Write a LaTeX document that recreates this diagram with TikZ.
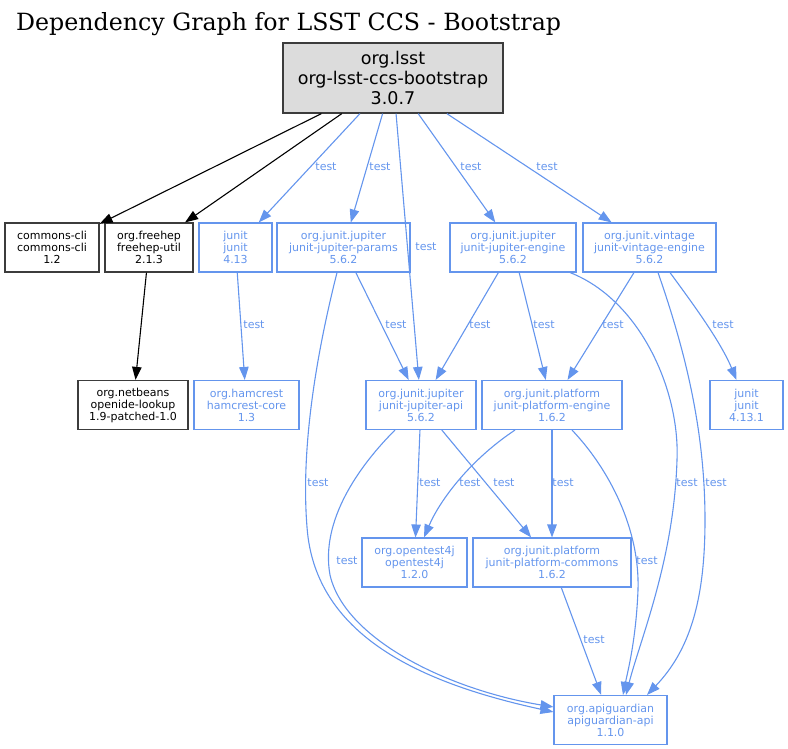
\documentclass[tikz,border=0pt]{standalone}
\usepackage{fontspec}
\setmainfont{DejaVu Sans}
\newfontfamily\titlefont{DejaVu Serif}
\usetikzlibrary{arrows.meta}
\definecolor{cfblue}{RGB}{100,149,237}
\definecolor{rootfill}{RGB}{220,220,220}
\definecolor{dgray}{RGB}{60,60,60}
\begin{document}
\begin{tikzpicture}[x=1pt,y=-1pt,
  box/.style={draw, line width=1.2pt, inner sep=0pt, align=center,
    font=\fontsize{11}{12}\selectfont, minimum height=49pt},
  dep/.style={box, draw=dgray, text=black},
  tdep/.style={box, line width=1.1pt, draw=cfblue, text=cfblue},
  rootbox/.style={draw=dgray, fill=rootfill, line width=1.3pt, inner sep=0pt, align=center,
    font=\fontsize{17.5}{20}\selectfont, minimum width=220pt, minimum height=70pt},
  edge/.style={line width=1.1pt, -{Triangle[length=13pt,width=9.5pt]}},
  bedge/.style={edge, draw=black},
  tedge/.style={edge, draw=cfblue},
  lbl/.style={text=cfblue, font=\fontsize{11}{12}\selectfont, inner sep=0pt}]
\useasboundingbox (0,0) rectangle (788,749);
\node[anchor=base west, font=\titlefont\fontsize{23.7}{26}\selectfont, inner sep=0pt] (title) at (16,31) {Dependency Graph for LSST CCS - Bootstrap};
% nodes
\node[rootbox] (root) at (393,78) {org.lsst\\org-lsst-ccs-bootstrap\\3.0.7};
\node[dep, minimum width=94pt] (cc) at (52,247.5) {commons-cli\\commons-cli\\1.2};
\node[dep, minimum width=88pt] (fh) at (149,247.5) {org.freehep\\freehep-util\\2.1.3};
\node[tdep, minimum width=73pt] (ju) at (235.5,247.5) {junit\\junit\\4.13};
\node[tdep, minimum width=133pt] (jp) at (343.5,247.5) {org.junit.jupiter\\junit-jupiter-params\\5.6.2};
\node[tdep, minimum width=126pt] (je) at (513,247.5) {org.junit.jupiter\\junit-jupiter-engine\\5.6.2};
\node[tdep, minimum width=133pt] (ve) at (649.5,247.5) {org.junit.vintage\\junit-vintage-engine\\5.6.2};
\node[dep, minimum width=110pt] (nb) at (133,405) {org.netbeans\\openide-lookup\\1.9-patched-1.0};
\node[tdep, minimum width=105pt] (hc) at (246.5,405) {org.hamcrest\\hamcrest-core\\1.3};
\node[tdep, minimum width=110pt] (ja) at (421,405) {org.junit.jupiter\\junit-jupiter-api\\5.6.2};
\node[tdep, minimum width=140pt] (pe) at (552,405) {org.junit.platform\\junit-platform-engine\\1.6.2};
\node[tdep, minimum width=73pt] (jn) at (746.5,405) {junit\\junit\\4.13.1};
\node[tdep, minimum width=105pt] (ot) at (414.5,562.5) {org.opentest4j\\opentest4j\\1.2.0};
\node[tdep, minimum width=158pt] (pc) at (552,562.5) {org.junit.platform\\junit-platform-commons\\1.6.2};
\node[tdep, minimum width=113pt] (ag) at (610.5,720) {org.apiguardian\\apiguardian-api\\1.1.0};
% edges from root
\draw[bedge] (root) -- (cc);
\draw[bedge] (root) -- (fh);
\draw[tedge] (root) -- (ju) node[lbl] (l1) at (326,167) {test};
\draw[tedge] (root) -- (jp) node[lbl] (l2) at (380,167) {test};
\draw[tedge] (root) -- (ja) node[lbl] (l3) at (426,247) {test};
\draw[tedge] (root) -- (je) node[lbl] (l4) at (471,167) {test};
\draw[tedge] (root) -- (ve) node[lbl] (l5) at (547,167) {test};
% second level
\draw[bedge] (fh) -- (nb);
\draw[tedge] (ju) -- (hc) node[lbl] (l6) at (254,325) {test};
\draw[tedge] (jp) -- (ja) node[lbl] (l7) at (396,325) {test};
\draw[tedge] (je) -- (ja) node[lbl] (l8) at (480,325) {test};
\draw[tedge] (je) -- (pe) node[lbl] (l9) at (544,325) {test};
\draw[tedge] (ve) -- (pe) node[lbl] (l10) at (613,325) {test};
\draw[tedge] ([xshift=20.5pt]ve.south) .. controls (690,300) and (720,340) .. ([xshift=-10pt]jn.north)
  node[lbl] (l11) at (723,325) {test};
% long curves
\draw[tedge] ([xshift=-6.5pt]jp.south) .. controls (320,340) and (300,440) .. (307,527)
  .. controls (315,640) and (430,685) .. ([yshift=8pt]ag.west)
  node[lbl] (l12) at (318,483) {test};
\draw[tedge] ([xshift=57pt]je.south) .. controls (640,300) and (680,390) .. (677,460)
  .. controls (674,560) and (640,640) .. ([xshift=15.5pt]ag.north)
  node[lbl] (l13) at (687,483) {test};
\draw[tedge] ([xshift=8.5pt]ve.south) .. controls (685,350) and (705,430) .. (705,520)
  .. controls (705,600) and (690,650) .. ([xshift=36.5pt]ag.north)
  node[lbl] (l14) at (716,483) {test};
% third level
\draw[tedge] (ja) -- (ot) node[lbl] (l15) at (430,483) {test};
\draw[tedge] (ja) -- (pc) node[lbl] (l16) at (504,483) {test};
\draw[tedge] ([xshift=-37pt]pe.south) .. controls (470,460) and (440,500) .. ([xshift=9.5pt]ot.north)
  node[lbl] (l17) at (470,483) {test};
\draw[tedge] (pe) -- (pc) node[lbl] (l18) at (563,483) {test};
\draw[tedge] ([xshift=-26pt]ja.south) .. controls (360,465) and (320,520) .. (330,575)
  .. controls (345,640) and (450,690) .. ([yshift=13pt]ag.west)
  node[lbl] (l19) at (347,561) {test};
\draw[tedge] ([xshift=20pt]pe.south) .. controls (610,470) and (640,530) .. (638,590)
  .. controls (636,640) and (628,670) .. ([xshift=12.5pt]ag.north)
  node[lbl] (l20) at (647,561) {test};
\draw[tedge] (pc) -- (ag) node[lbl] (l21) at (594,640) {test};
\end{tikzpicture}
\end{document}
